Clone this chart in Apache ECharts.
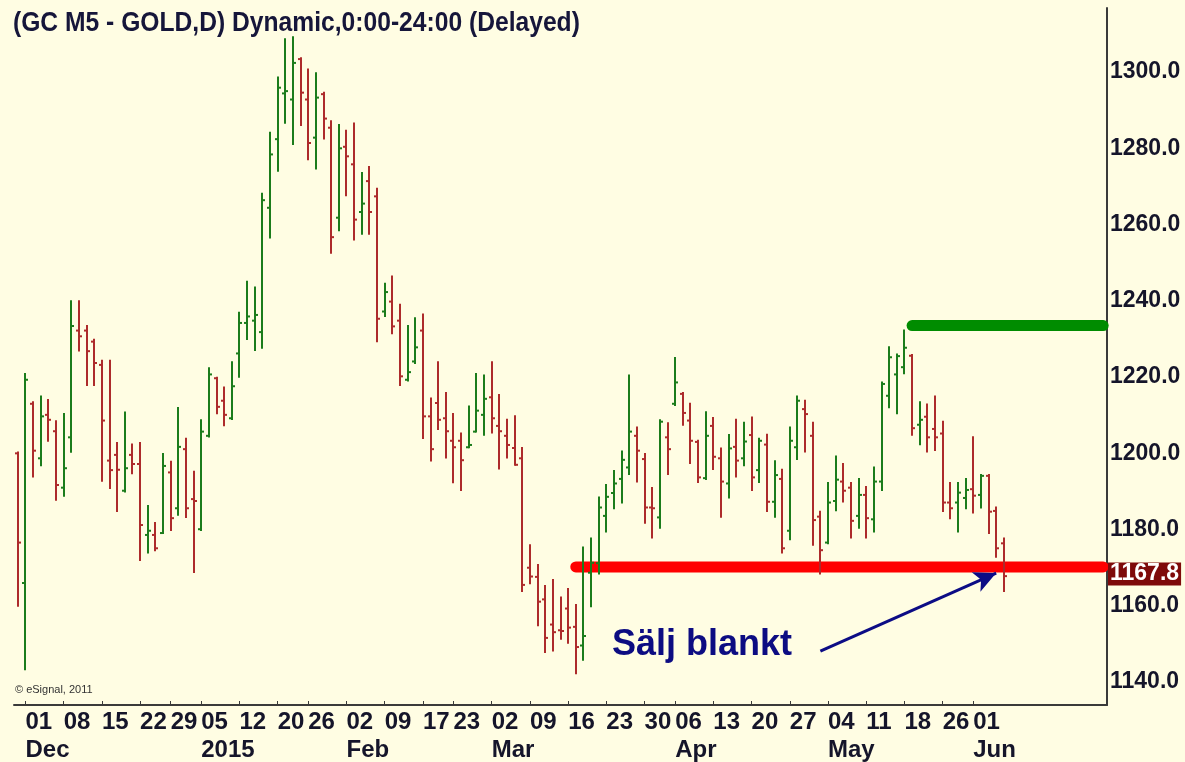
<!DOCTYPE html>
<html>
<head>
<meta charset="utf-8">
<script src="https://cdn.jsdelivr.net/npm/echarts@6/dist/echarts.min.js"></script>
<style>
html,body{margin:0;padding:0;background:#FFFDE3;}
#chart{width:1185px;height:762px;}
</style>
</head>
<body>
<div id="chart"></div>
<script>
// ---- Data ----
const dates = [
'2014-11-28',
'2014-12-01','2014-12-02','2014-12-03','2014-12-04','2014-12-05',
'2014-12-08','2014-12-09','2014-12-10','2014-12-11','2014-12-12',
'2014-12-15','2014-12-16','2014-12-17','2014-12-18','2014-12-19',
'2014-12-22','2014-12-23','2014-12-24','2014-12-26',
'2014-12-29','2014-12-30','2014-12-31','2015-01-02',
'2015-01-05','2015-01-06','2015-01-07','2015-01-08','2015-01-09',
'2015-01-12','2015-01-13','2015-01-14','2015-01-15','2015-01-16',
'2015-01-20','2015-01-21','2015-01-22','2015-01-23',
'2015-01-26','2015-01-27','2015-01-28','2015-01-29','2015-01-30',
'2015-02-02','2015-02-03','2015-02-04','2015-02-05','2015-02-06',
'2015-02-09','2015-02-10','2015-02-11','2015-02-12','2015-02-13',
'2015-02-17','2015-02-18','2015-02-19','2015-02-20',
'2015-02-23','2015-02-24','2015-02-25','2015-02-26','2015-02-27',
'2015-03-02','2015-03-03','2015-03-04','2015-03-05','2015-03-06',
'2015-03-09','2015-03-10','2015-03-11','2015-03-12','2015-03-13',
'2015-03-16','2015-03-17','2015-03-18','2015-03-19','2015-03-20',
'2015-03-23','2015-03-24','2015-03-25','2015-03-26','2015-03-27',
'2015-03-30','2015-03-31','2015-04-01','2015-04-02',
'2015-04-06','2015-04-07','2015-04-08','2015-04-09','2015-04-10',
'2015-04-13','2015-04-14','2015-04-15','2015-04-16','2015-04-17',
'2015-04-20','2015-04-21','2015-04-22','2015-04-23','2015-04-24',
'2015-04-27','2015-04-28','2015-04-29','2015-04-30','2015-05-01',
'2015-05-04','2015-05-05','2015-05-06','2015-05-07','2015-05-08',
'2015-05-11','2015-05-12','2015-05-13','2015-05-14','2015-05-15',
'2015-05-18','2015-05-19','2015-05-20','2015-05-21','2015-05-22',
'2015-05-26','2015-05-27','2015-05-28','2015-05-29',
'2015-06-01','2015-06-02','2015-06-03','2015-06-04','2015-06-05'
];
const opens = [
1200.0,
1166.0,1213.0,1198.7,1210.1,1205.8,
1191.0,1204.2,1232.2,1232.2,1229.3,
1223.2,1198.1,1199.6,1190.2,1199.6,
1197.2,1178.6,1178.6,1179.1,
1195.0,1185.6,1201.1,1188.0,
1180.1,1204.6,1219.7,1213.8,1209.2,
1226.2,1234.2,1234.8,1231.8,1264.4,
1282.4,1294.4,1292.8,1303.4,
1292.8,1282.8,1294.2,1285.4,1261.8,
1280.4,1275.8,1263.3,1271.4,1267.4,
1237.2,1239.8,1234.8,1219.3,1224.1,
1232.2,1209.7,1213.2,1209.2,
1203.3,1203.3,1201.6,1205.7,1210.1,
1214.7,1207.2,1204.6,1201.4,1198.7,
1170.0,1167.6,1161.7,1155.1,1153.6,
1159.3,1154.5,1149.6,1168.7,1171.2,
1183.6,1189.6,1193.3,1196.3,1204.6,
1198.5,1185.8,1183.2,1204.2,
1213.0,1215.6,1208.6,1203.0,1193.5,
1207.2,1198.7,1192.1,1201.7,1198.7,
1204.8,1195.6,1202.3,1187.3,1193.3,
1179.7,1201.6,1211.6,1204.6,1183.4,
1176.6,1187.5,1192.6,1191.0,1183.6,
1189.1,1182.7,1192.6,1215.1,1220.7,
1222.6,1225.6,1207.5,1209.6,1206.4,
1205.2,1187.1,1187.1,1188.3,
1190.6,1189.1,1194.1,1184.9,1176.4
];
const highs = [
1200.2,
1220.8,1213.4,1214.9,1214.0,1208.4,
1210.3,1239.9,1239.9,1233.4,1229.8,
1224.3,1224.3,1202.7,1210.7,1202.3,
1202.7,1186.2,1181.7,1199.8,
1197.8,1211.9,1203.8,1195.2,
1208.7,1222.3,1219.8,1217.3,1223.9,
1236.9,1245.0,1243.5,1268.1,1284.1,
1298.6,1308.6,1309.1,1303.6,
1300.7,1299.7,1294.6,1287.1,1286.1,
1284.6,1286.5,1273.5,1275.1,1269.4,
1244.5,1246.4,1239.0,1233.4,1235.4,
1236.4,1214.4,1223.9,1215.8,
1210.3,1205.2,1212.3,1220.8,1220.4,
1223.9,1215.3,1208.8,1209.7,1201.4,
1175.9,1170.7,1165.2,1166.8,1162.2,
1164.4,1160.2,1175.3,1177.7,1188.4,
1191.7,1195.4,1200.5,1220.4,1206.8,
1199.8,1190.9,1208.7,1207.9,
1225.0,1215.8,1213.0,1203.3,1210.8,
1209.3,1201.3,1204.8,1208.8,1208.0,
1209.4,1203.8,1204.9,1197.9,1195.7,
1206.8,1214.9,1213.8,1208.0,1184.7,
1192.2,1199.2,1197.2,1192.2,1193.3,
1191.2,1196.3,1218.6,1227.8,1225.9,
1232.2,1225.8,1213.4,1212.8,1214.9,
1208.3,1192.2,1192.2,1193.3,
1204.2,1194.3,1194.3,1185.8,1177.7
];
const lows = [
1160.0,
1143.4,1193.9,1196.9,1203.3,1187.8,
1188.9,1200.4,1227.0,1217.9,1217.9,
1192.8,1190.9,1184.9,1190.0,1194.8,
1172.0,1174.0,1174.6,1179.1,
1179.9,1183.9,1183.3,1168.9,
1179.9,1204.4,1210.5,1207.4,1209.0,
1220.1,1230.0,1227.1,1227.7,1256.6,
1274.1,1286.7,1281.1,1286.1,
1277.1,1274.7,1282.6,1252.6,1258.5,
1267.7,1256.1,1257.6,1257.6,1229.4,
1236.0,1231.5,1217.9,1219.1,1223.7,
1204.0,1198.1,1206.4,1198.9,
1192.4,1190.4,1201.6,1205.7,1204.9,
1205.5,1196.0,1198.9,1197.0,1163.9,
1165.9,1154.9,1147.9,1148.3,1151.4,
1150.3,1142.3,1145.9,1159.9,1168.5,
1179.5,1185.6,1187.1,1194.6,1192.6,
1181.8,1177.9,1180.5,1194.6,
1212.7,1207.5,1197.5,1192.5,1193.3,
1195.9,1183.4,1188.4,1193.9,1196.9,
1190.4,1192.5,1184.9,1183.4,1174.0,
1177.5,1198.5,1200.5,1176.0,1168.5,
1176.4,1185.1,1187.4,1177.9,1180.5,
1177.9,1179.5,1190.4,1212.1,1210.5,
1221.0,1204.9,1202.4,1200.5,1200.9,
1184.9,1183.0,1179.5,1185.6,
1184.5,1185.8,1179.1,1172.9,1163.9
];
const closes = [
1176.6,
1219.3,1200.7,1209.7,1208.8,1191.7,
1196.1,1233.4,1230.7,1226.8,1223.7,
1208.6,1195.6,1195.7,1196.1,1197.2,
1181.2,1179.7,1175.1,1196.7,
1183.0,1201.7,1185.6,1187.5,
1205.7,1220.7,1212.2,1210.1,1217.6,
1234.2,1235.9,1236.3,1266.4,1278.4,
1295.9,1295.0,1302.4,1294.6,
1281.4,1293.3,1287.8,1256.7,1280.0,
1277.9,1261.3,1265.5,1263.3,1235.3,
1242.3,1233.3,1220.2,1221.3,1227.8,
1209.7,1201.1,1208.8,1205.8,
1201.6,1198.2,1202.2,1211.2,1214.3,
1209.2,1205.8,1202.2,1197.0,1165.5,
1167.7,1161.1,1151.6,1153.1,1153.4,
1154.3,1149.2,1152.1,1171.3,1185.8,
1188.6,1192.1,1198.3,1205.7,1200.7,
1185.8,1185.6,1208.3,1201.1,
1218.6,1210.6,1203.3,1193.7,1204.6,
1199.1,1192.6,1201.3,1198.1,1203.1,
1193.7,1203.3,1187.3,1194.3,1175.1,
1203.3,1213.8,1210.3,1182.5,1174.6,
1187.1,1193.1,1190.2,1182.3,1189.1,
1183.0,1192.6,1218.2,1225.2,1225.5,
1227.7,1206.6,1208.8,1204.2,1204.2,
1187.1,1185.6,1189.7,1190.4,
1188.9,1194.1,1184.7,1175.1,1167.8
];
// tick labels
const weekTicks = [
'2014-12-01','2014-12-08','2014-12-15','2014-12-22','2014-12-29',
'2015-01-05','2015-01-12','2015-01-20','2015-01-26',
'2015-02-02','2015-02-09','2015-02-17','2015-02-23',
'2015-03-02','2015-03-09','2015-03-16','2015-03-23','2015-03-30',
'2015-04-06','2015-04-13','2015-04-20','2015-04-27',
'2015-05-04','2015-05-11','2015-05-18','2015-05-26','2015-06-01'
];
const monthTickDates = ['2014-12-01','2015-01-05','2015-02-02','2015-03-02','2015-04-06','2015-05-04','2015-06-01'];
const monthTickNames = ['Dec','2015','Feb','Mar','Apr','May','Jun'];
const priceTicks = [1140,1160,1180,1200,1220,1240,1260,1280,1300];
// annotation levels
const supportLevel = 1170.2, supportStart = '2015-03-17';
const resistLevel = 1233.5, resistStart = '2015-05-19';
const lastPrice = 1167.8;
const arrowFrom = ['2015-05-01', 1148.1];
const arrowTo = ['2015-06-04', 1168.6];
const futureSlots = 13;

// ---- Build ----
const categories = dates.concat(Array.from({length: futureSlots}, (_, i) => 'f' + i));
const lastIdx = categories.length - 1;
const ohlc = dates.map((d, i) => [i, opens[i], highs[i], lows[i], closes[i]]);
const GREEN = '#1b7c1b', RED = '#ad2b2b';
const SANS = "'Liberation Sans',Arial,Helvetica,sans-serif";
const TXT = '#15152a';

const chart = echarts.init(document.getElementById('chart'), null, {renderer: 'canvas'});
chart.setOption({
  backgroundColor: '#FFFDE3',
  animation: false,
  grid: {left: 14, right: 78, top: 8, bottom: 57, containLabel: false},
  xAxis: {
    type: 'category',
    data: categories,
    boundaryGap: true,
    axisLine: {show: true, lineStyle: {color: '#3a3a3a', width: 2}},
    axisTick: {
      show: true, inside: true, length: 4, alignWithLabel: true,
      interval: (i, v) => weekTicks.includes(v),
      lineStyle: {color: '#3a3a3a', width: 1}
    },
    axisLabel: {
      show: true,
      interval: 0,
      hideOverlap: false,
      showMinLabel: true,
      showMaxLabel: true,
      align: 'left',
      margin: 3,
      formatter: (v) => {
        if (!weekTicks.includes(v)) return '';
        const k = monthTickDates.indexOf(v);
        const day = v.slice(8, 10);
        return '{d|' + day + '}\n{m|' + (k >= 0 ? monthTickNames[k] : ' ') + '}';
      },
      rich: {
        d: {fontFamily: SANS, fontWeight: 'bold', fontSize: 24, color: TXT, lineHeight: 28, align: 'left'},
        m: {fontFamily: SANS, fontWeight: 'bold', fontSize: 24, color: TXT, lineHeight: 28, align: 'left'}
      }
    },
    splitLine: {show: false}
  },
  yAxis: {
    type: 'value',
    position: 'right',
    min: 1134.0,
    max: 1316.8,
    axisLine: {show: true, lineStyle: {color: '#3a3a3a', width: 2}},
    axisTick: {show: false},
    splitLine: {show: false},
    axisLabel: {
      show: true,
      customValues: priceTicks,
      formatter: (v) => Number(v).toFixed(1),
      margin: 3,
      fontFamily: SANS,
      fontWeight: 'bold',
      fontSize: 23,
      color: TXT
    }
  },
  series: [
    {
      type: 'line',
      name: 'support',
      data: [[dates.indexOf(supportStart), supportLevel], [lastIdx, supportLevel]],
      symbol: 'none',
      lineStyle: {color: '#ff0000', width: 11, cap: 'round'},
      z: 2
    },
    {
      type: 'line',
      name: 'resistance',
      data: [[dates.indexOf(resistStart), resistLevel], [lastIdx, resistLevel]],
      symbol: 'none',
      lineStyle: {color: '#008c00', width: 11, cap: 'round'},
      z: 2
    },
    {
      type: 'line',
      name: 'arrow',
      data: [],
      markLine: {
        silent: true,
        symbol: ['none', 'arrow'],
        symbolSize: [16, 22],
        lineStyle: {color: '#0c0c85', width: 3, type: 'solid'},
        label: {show: false},
        data: [[
          {coord: [dates.indexOf(arrowFrom[0]), arrowFrom[1]]},
          {coord: [dates.indexOf(arrowTo[0]), arrowTo[1]]}
        ]]
      },
      z: 4
    },
    {
      type: 'custom',
      name: 'GC M5',
      data: ohlc,
      encode: {x: 0, y: [1, 2, 3, 4]},
      z: 5,
      renderItem: (params, api) => {
        const i = api.value(0);
        const o = api.coord([i, api.value(1)]);
        const h = api.coord([i, api.value(2)]);
        const l = api.coord([i, api.value(3)]);
        const c = api.coord([i, api.value(4)]);
        const color = api.value(4) >= api.value(1) ? GREEN : RED;
        const x = Math.round(o[0]);
        const st = {stroke: color, lineWidth: 2};
        return {
          type: 'group',
          children: [
            {type: 'line', shape: {x1: x, y1: h[1] - 1, x2: x, y2: l[1] + 1}, style: st},
            {type: 'line', shape: {x1: x - 3, y1: o[1], x2: x, y2: o[1]}, style: st},
            {type: 'line', shape: {x1: x, y1: c[1], x2: x + 3, y2: c[1]}, style: st}
          ]
        };
      }
    },
    {
      // last-price tag on the price axis
      type: 'custom',
      name: 'lastTag',
      data: [[dates.length - 1, lastPrice]],
      encode: {x: 0, y: 1},
      clip: false,
      z: 6,
      renderItem: (params, api) => {
        const p = api.coord([api.value(0), api.value(1)]);
        const right = params.coordSys.x + params.coordSys.width;
        return {
          type: 'text',
          x: right + 1,
          y: p[1] - 2,
          style: {
            text: api.value(1).toFixed(1),
            font: "bold 23px " + SANS,
            fill: '#ffffff',
            backgroundColor: '#7e0a0a',
            padding: [0, 2, 0, 2],
            verticalAlign: 'middle',
            align: 'left'
          }
        };
      }
    }
  ],
  graphic: [
    {type: 'text', x: 13, y: 9, scaleX: 0.88, z: 10,
      style: {text: '(GC M5 - GOLD,D) Dynamic,0:00-24:00 (Delayed)', font: "bold 28px " + SANS, fill: '#16163a'}},
    {type: 'text', x: 612, y: 627, z: 10,
      style: {text: 'Sälj blankt', font: "bold 36px " + SANS, fill: '#0c0c82'}},
    {type: 'text', x: 15, y: 684, z: 10,
      style: {text: '© eSignal, 2011', font: "11px " + SANS, fill: '#333333'}}
  ]
});
</script>
</body>
</html>
